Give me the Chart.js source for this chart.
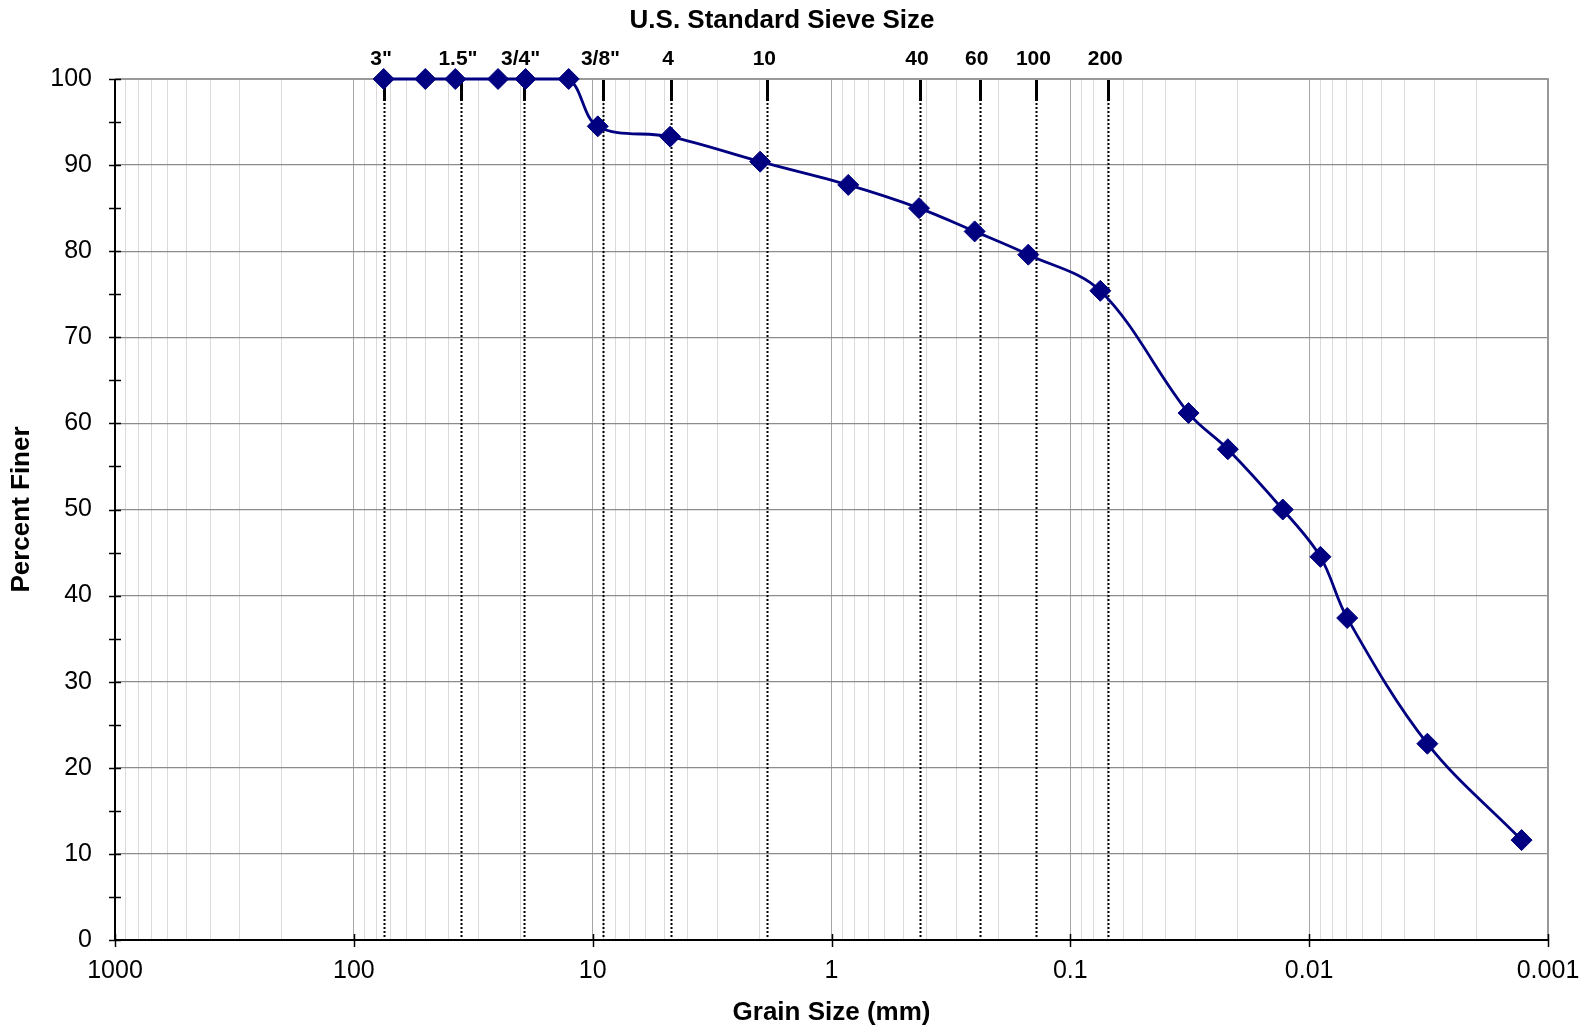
<!DOCTYPE html>
<html>
<head>
<meta charset="utf-8">
<title>Grain Size Distribution</title>
<script src="https://cdn.jsdelivr.net/npm/chart.js@4.4.0/dist/chart.umd.min.js"></script>
<style>
  html, body { margin: 0; padding: 0; background: #fff; }
  #wrap { width: 1585px; height: 1031px; }
</style>
</head>
<body>
<div id="wrap"><canvas id="gradation" width="1585" height="1031"></canvas></div>
<script>
// grain size (mm) and percent finer
const grainSize = [75, 50.2, 37.6, 24.9, 19.1, 12.6, 9.52, 4.74, 1.99, 0.851, 0.430, 0.2515, 0.150, 0.0749,
                   0.0320, 0.0219, 0.0129, 0.00897, 0.00693, 0.00320, 0.00129];
const percentFiner = [100, 100, 100, 100, 100, 100, 94.5, 93.3, 90.4, 87.7, 85.0, 82.3, 79.6, 75.4,
                      61.2, 57.0, 50.0, 44.5, 37.4, 22.8, 11.6];

// US standard sieves marked along the top
const sieveNames = ['3"', '1.5"', '3/4"', '3/8"', '4', '10', '40', '60', '100', '200'];
const sieveSizes = [74.7, 35.6, 19.45, 9.01, 4.69, 1.856, 0.426, 0.2394, 0.1387, 0.0694];

// axis ticks
const decadeValues = [1000, 100, 10, 1, 0.1, 0.01, 0.001];
const decadeLabels = ['1000', '100', '10', '1', '0.1', '0.01', '0.001'];
const yTickLabels = ['0', '10', '20', '30', '40', '50', '60', '70', '80', '90', '100'];

const FONT = '"Liberation Sans", Arial, sans-serif';

// 1..9 x each decade for the log gridlines
const logGrid = [];
decadeValues.slice(1).forEach(d => {
  for (let k = 1; k <= 9; k++) logGrid.push(+(k * d).toPrecision(6));
});
logGrid.push(1000);

function isDecade(v) {
  return decadeValues.some(d => Math.abs(v / d - 1) < 1e-6);
}
function decadeLabel(v) {
  const i = decadeValues.findIndex(d => Math.abs(v / d - 1) < 1e-6);
  return i >= 0 ? decadeLabels[i] : '';
}

const overlay = {
  id: 'overlay',
  beforeDatasetsDraw(chart) {
    const { ctx, chartArea: a, scales: { x, y } } = chart;
    ctx.save();

    // sieve lines: short solid stub, then dotted to the bottom
    ctx.strokeStyle = '#000';
    sieveSizes.forEach(s => {
      const px = Math.round(x.getPixelForValue(s)) + 0.5;
      ctx.lineWidth = 2;
      ctx.setLineDash([2, 2]);
      ctx.beginPath();
      ctx.moveTo(px, a.top);
      ctx.lineTo(px, a.bottom);
      ctx.stroke();
      ctx.setLineDash([]);
      ctx.lineWidth = 3;
      ctx.beginPath();
      ctx.moveTo(px, a.top);
      ctx.lineTo(px, a.top + 22);
      ctx.stroke();
    });

    // frame
    ctx.strokeStyle = '#999';
    ctx.lineWidth = 2;
    ctx.beginPath();
    ctx.moveTo(a.left, a.top);
    ctx.lineTo(a.right, a.top);
    ctx.lineTo(a.right, a.bottom);
    ctx.stroke();

    ctx.strokeStyle = '#000';
    ctx.beginPath();
    ctx.moveTo(a.left, a.top);
    ctx.lineTo(a.left, a.bottom);
    ctx.lineTo(a.right, a.bottom);
    ctx.stroke();

    // y ticks cross the axis
    ctx.lineWidth = 1.5;
    y.ticks.forEach(t => {
      const py = Math.round(y.getPixelForValue(t.value)) + 0.5;
      ctx.beginPath();
      ctx.moveTo(a.left - 6, py);
      ctx.lineTo(a.left + 6, py);
      ctx.stroke();
    });
    // x major ticks below the axis
    decadeValues.forEach(v => {
      const px = Math.round(x.getPixelForValue(v)) + 0.5;
      ctx.beginPath();
      ctx.moveTo(px, a.bottom - 6);
      ctx.lineTo(px, a.bottom + 7);
      ctx.stroke();
    });
    ctx.restore();
  },
  afterDraw(chart) {
    const { ctx, scales: { x } } = chart;
    ctx.save();
    ctx.fillStyle = '#000';
    ctx.textAlign = 'center';
    ctx.textBaseline = 'middle';

    ctx.font = 'bold 26px ' + FONT;
    ctx.fillText('U.S. Standard Sieve Size', 782, 21);

    ctx.font = 'bold 21px ' + FONT;
    sieveNames.forEach((name, i) => {
      ctx.fillText(name, x.getPixelForValue(sieveSizes[i]) - 3, 59);
    });
    ctx.restore();
  }
};

new Chart(document.getElementById('gradation'), {
  type: 'scatter',
  data: {
    datasets: [{
      data: grainSize.map((g, i) => ({ x: g, y: percentFiner[i] })),
      showLine: true,
      tension: 0.35,
      borderColor: '#000080',
      backgroundColor: '#000080',
      borderWidth: 2.8,
      pointStyle: 'rectRot',
      pointRadius: 10.5,
      pointBorderWidth: 1,
      pointBackgroundColor: '#000080',
      pointBorderColor: '#000080',
      clip: false
    }]
  },
  options: {
    responsive: false,
    animation: false,
    layout: { padding: { left: 0, top: 79, right: 37, bottom: 0 } },
    plugins: {
      legend: { display: false },
      tooltip: { enabled: false }
    },
    scales: {
      x: {
        type: 'logarithmic',
        reverse: true,
        min: 0.001,
        max: 1000,
        afterBuildTicks: s => { s.ticks = logGrid.map(v => ({ value: v })); },
        afterFit: s => { s.height = 91; },
        border: { display: false },
        grid: {
          drawTicks: false,
          color: c => isDecade(c.tick.value) ? '#a6a6a6' : '#dadada',
          lineWidth: 1
        },
        ticks: {
          autoSkip: false,
          maxRotation: 0,
          padding: 16,
          color: '#000',
          font: { family: FONT, size: 25 },
          callback: v => decadeLabel(v)
        },
        title: {
          display: true,
          text: 'Grain Size (mm)',
          color: '#000',
          font: { family: FONT, size: 26, weight: 'bold' },
          padding: { top: 0, bottom: 3 }
        }
      },
      y: {
        min: 0,
        max: 100,
        afterFit: s => { s.width = 115; },
        border: { display: false },
        grid: {
          drawTicks: false,
          color: c => (c.tick.value % 10 === 0 && c.tick.value > 0) ? '#8c8c8c' : 'rgba(0,0,0,0)',
          lineWidth: 1.2
        },
        ticks: {
          stepSize: 5,
          autoSkip: false,
          padding: 23,
          color: '#000',
          font: { family: FONT, size: 25 },
          callback: v => (v % 10 === 0 ? yTickLabels[v / 10] : '')
        },
        title: {
          display: true,
          text: 'Percent Finer',
          color: '#000',
          font: { family: FONT, size: 26, weight: 'bold' },
          padding: { top: 6, bottom: 0 }
        }
      }
    }
  },
  plugins: [overlay]
});
</script>
</body>
</html>
